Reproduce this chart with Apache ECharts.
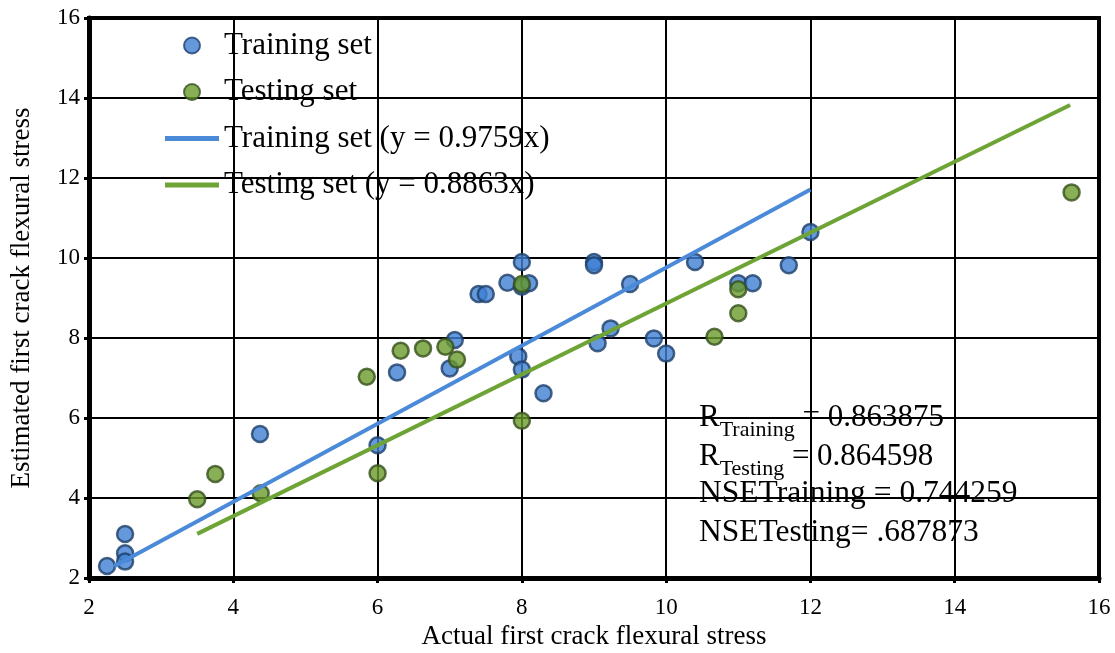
<!DOCTYPE html>
<html>
<head>
<meta charset="utf-8">
<script src="https://cdn.jsdelivr.net/npm/echarts@6/dist/echarts.min.js"></script>
<style>html,body{margin:0;padding:0;background:#fff}#c{width:1115px;height:653px}</style>
</head>
<body>
<div id="c"></div>
<script>
// ---- data ----
var trainX = [2.25, 2.5, 2.5, 2.5, 4.37, 6.0, 6.27, 7.0, 7.07, 7.4, 7.5, 7.8, 7.95, 8.0, 8.0, 8.0, 8.1, 8.3, 9.0, 9.0, 9.05, 9.23, 9.5, 9.83, 10.0, 10.4, 11.0, 11.2, 11.7, 12.0];
var trainY = [2.3, 3.1, 2.62, 2.41, 5.6, 5.32, 7.14, 7.24, 7.95, 9.1, 9.1, 9.38, 7.54, 7.21, 9.9, 9.28, 9.37, 6.62, 9.9, 9.82, 7.87, 8.24, 9.35, 7.99, 7.61, 9.9, 9.37, 9.37, 9.82, 10.65];
var testX = [3.5, 3.75, 4.38, 5.85, 6.0, 6.32, 6.63, 6.94, 7.1, 8.0, 8.0, 10.67, 11.0, 11.0, 15.62];
var testY = [3.97, 4.6, 4.12, 7.03, 4.62, 7.68, 7.74, 7.78, 7.46, 9.35, 5.93, 8.03, 9.22, 8.62, 11.64];
var trainSlope = 0.9759;
var testSlope = 0.8863;
var trainLineX = [2.35, 12.0];
var testLineX = [3.5, 15.6];
var seriesNames = ['Training set', 'Testing set', 'Training set (y = 0.9759x)', 'Testing set (y = 0.8863x)'];
var statLines = [
  {label: 'R', sub: 'Training', value: ' = 0.863875'},
  {label: 'R', sub: 'Testing', value: ' = 0.864598'},
  {label: 'NSETraining = 0.744259', sub: '', value: ''},
  {label: 'NSETesting= .687873', sub: '', value: ''}
];
var xTicks = {min: 2, max: 16, interval: 2};
var yTicks = {min: 2, max: 16, interval: 2};
var xTitle = 'Actual first crack flexural stress';
var yTitle = 'Estimated first crack flexural stress';

function pairs(xs, ys) { return xs.map(function (x, i) { return [x, ys[i]]; }); }
function fitLine(xs, k) { return xs.map(function (x) { return [x, k * x]; }); }

var FONT = 'Liberation Serif';
var chart = echarts.init(document.getElementById('c'), null, {renderer: 'canvas'});

var graphics = statLines.map(function (s, i) {
  var txt = s.sub ? '{r|' + s.label + '}{s|' + s.sub + '}{r|' + s.value + '}' : '{p|' + s.label + '}';
  return {
    type: 'text', left: 699, top: (s.sub ? 402 : 400) + i * 39, z: 100,
    style: {
      text: txt, fill: '#000',
      rich: {
        r: {fontFamily: FONT, fontSize: 31, fill: '#000', lineHeight: 34, verticalAlign: 'bottom', padding: [0, 0, 8, 0]},
        p: {fontFamily: FONT, fontSize: 31.5, fill: '#000', lineHeight: 34, verticalAlign: 'bottom'},
        s: {fontFamily: FONT, fontSize: 22, fill: '#000', lineHeight: 28, verticalAlign: 'bottom'}
      }
    }
  };
});

var axisCommon = {
  axisLine: {show: true, onZero: false, lineStyle: {color: '#000', width: 5}},
  axisTick: {show: true, inside: false, length: 5, lineStyle: {color: '#000', width: 3}},
  splitLine: {show: true, lineStyle: {color: '#000', width: 2}},
  nameLocation: 'middle',
  nameTextStyle: {fontFamily: FONT, fontSize: 27, color: '#000'}
};

var lineIcon = 'path://M0,0L54,0L54,5L0,5Z';

chart.setOption({
  animation: false,
  backgroundColor: '#fff',
  grid: {left: 89, right: 16, top: 18, bottom: 75, show: true, borderColor: '#000', borderWidth: 4,
         containLabel: false, outerBoundsMode: 'none'},
  xAxis: Object.assign({}, axisCommon, {
    type: 'value', min: xTicks.min, max: xTicks.max, interval: xTicks.interval,
    name: xTitle, nameGap: 45,
    axisLabel: {fontFamily: FONT, fontSize: 23, color: '#000', margin: 18}
  }),
  yAxis: Object.assign({}, axisCommon, {
    type: 'value', min: yTicks.min, max: yTicks.max, interval: yTicks.interval,
    name: yTitle, nameGap: 54,
    axisLabel: {fontFamily: FONT, fontSize: 23, color: '#000', margin: 9}
  }),
  legend: {
    show: true, orient: 'vertical', left: 160, top: 25,
    itemWidth: 54, itemHeight: 16, itemGap: 15.5,
    textStyle: {fontFamily: FONT, fontSize: 31, color: '#000', lineHeight: 31, padding: [0, 0, 0, 0]},
    data: [
      {name: seriesNames[0], icon: 'circle'},
      {name: seriesNames[1], icon: 'circle'},
      {name: seriesNames[2], icon: lineIcon},
      {name: seriesNames[3], icon: lineIcon}
    ],
    backgroundColor: 'transparent'
  },
  graphic: graphics,
  series: [
    {name: seriesNames[0], type: 'scatter', data: pairs(trainX, trainY), symbol: 'circle', symbolSize: 16,
     itemStyle: {color: '#3f80d3', borderColor: '#1d3e69', borderWidth: 2.5}, z: 3},
    {name: seriesNames[1], type: 'scatter', data: pairs(testX, testY), symbol: 'circle', symbolSize: 16,
     itemStyle: {color: '#6a9a2c', borderColor: '#34501b', borderWidth: 2.5}, z: 3},
    {name: seriesNames[2], type: 'line', data: fitLine(trainLineX, trainSlope), symbol: 'none', showSymbol: false,
     lineStyle: {color: '#4a8ad9', width: 4}, itemStyle: {color: '#4a8ad9'}, z: 4},
    {name: seriesNames[3], type: 'line', data: fitLine(testLineX, testSlope), symbol: 'none', showSymbol: false,
     lineStyle: {color: '#6ea436', width: 4}, itemStyle: {color: '#6ea436'}, z: 4}
  ]
});
</script>
</body>
</html>
